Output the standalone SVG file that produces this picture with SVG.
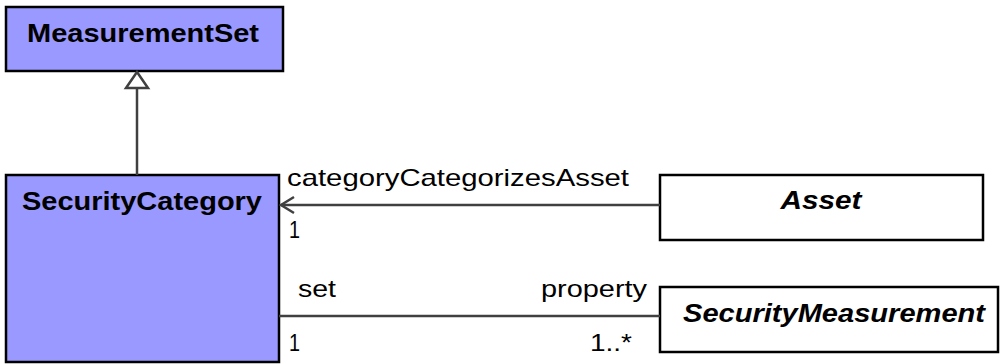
<svg xmlns="http://www.w3.org/2000/svg" width="1000" height="364" viewBox="0 0 1000 364">
<style>
.cls{stroke:#000;stroke-width:2.5}
.blue{fill:#9999ff}
.white{fill:#fff}
.name{font-family:"Liberation Sans",Arial,sans-serif;font-weight:bold;font-size:26px;text-anchor:middle;fill:#000}
.it{font-style:italic}
.lbl{font-family:"Liberation Sans",Arial,sans-serif;font-size:24px;fill:#000}
.conn{stroke:#404040;stroke-width:2.5;fill:none}
</style>
<g id="MeasurementSet">
<rect class="cls blue" x="6" y="7" width="277" height="64"/>
<text class="name" x="143" y="42" textLength="232" lengthAdjust="spacingAndGlyphs">MeasurementSet</text>
</g>
<g id="SecurityCategory">
<rect class="cls blue" x="6" y="175" width="273" height="187"/>
<text class="name" x="142" y="210" textLength="240" lengthAdjust="spacingAndGlyphs">SecurityCategory</text>
</g>
<g id="Asset">
<rect class="cls white" x="660" y="175" width="323" height="65"/>
<text class="name it" x="821" y="209" textLength="81" lengthAdjust="spacingAndGlyphs">Asset</text>
</g>
<g id="SecurityMeasurement">
<rect class="cls white" x="660" y="287" width="338" height="65"/>
<text class="name it" x="834" y="322" textLength="302" lengthAdjust="spacingAndGlyphs">SecurityMeasurement</text>
</g>
<g id="connectors">
<line class="conn" x1="137" y1="88" x2="137" y2="175"/>
<polygon class="conn" points="137,72 126,88 148,88" style="fill:#fff"/>
<line class="conn" x1="281" y1="205" x2="660" y2="205"/>
<polyline class="conn" points="294,197 281,205 294,213"/>
<line class="conn" x1="279" y1="316" x2="660" y2="316"/>
<text class="lbl" x="287" y="186" textLength="342" lengthAdjust="spacingAndGlyphs">categoryCategorizesAsset</text>
<text class="lbl" x="289" y="238" textLength="11" lengthAdjust="spacingAndGlyphs">1</text>
<text class="lbl" x="298" y="297" textLength="38" lengthAdjust="spacingAndGlyphs">set</text>
<text class="lbl" x="541" y="297" textLength="106" lengthAdjust="spacingAndGlyphs">property</text>
<text class="lbl" x="289" y="351" textLength="11" lengthAdjust="spacingAndGlyphs">1</text>
<text class="lbl" x="590" y="351" textLength="42" lengthAdjust="spacingAndGlyphs">1..*</text>
</g>
</svg>
